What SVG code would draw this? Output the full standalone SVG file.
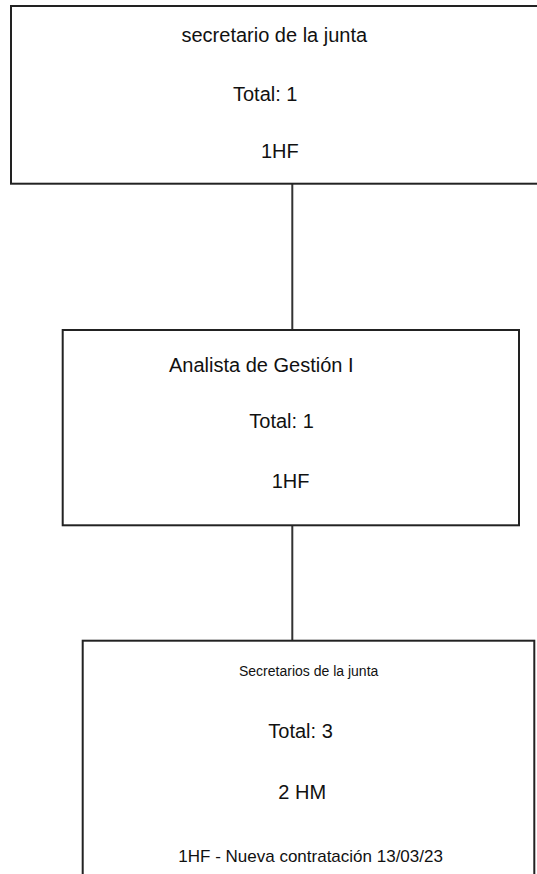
<svg xmlns="http://www.w3.org/2000/svg" width="537" height="874" viewBox="0 0 537 874">
<style>
.box{fill:#fff;stroke:#222;stroke-width:2}
.ln{stroke:#333;stroke-width:2;fill:none}
text{font-family:"Liberation Sans",Arial,sans-serif;fill:#111;font-size:20px}
.s{font-size:14px}
.m{font-size:17px}
</style>
<rect x="0" y="0" width="537" height="874" fill="#fff"/>
<g id="connectors">
<line class="ln" x1="292.3" y1="184" x2="292.3" y2="330"/>
<line class="ln" x1="292.3" y1="525" x2="292.3" y2="641"/>
</g>
<g id="node1">
<rect class="box" x="11" y="6" width="540" height="177.7"/>
<text x="181.5" y="42">secretario de la junta</text>
<text x="233" y="100.5">Total: 1</text>
<text x="261" y="157.5">1HF</text>
</g>
<g id="node2">
<rect class="box" x="62.7" y="330" width="456.3" height="195.3"/>
<text x="169" y="371.7">Analista de Gestión I</text>
<text x="249.3" y="428.3">Total: 1</text>
<text x="271.7" y="488.3">1HF</text>
</g>
<g id="node3">
<rect class="box" x="82.7" y="640.7" width="451.6" height="260"/>
<text class="s" x="239" y="675.7">Secretarios de la junta</text>
<text x="268.3" y="738.3">Total: 3</text>
<text x="278.3" y="799.3">2 HM</text>
<text class="m" x="178.3" y="861.7">1HF - Nueva contratación 13/03/23</text>
</g>
</svg>
